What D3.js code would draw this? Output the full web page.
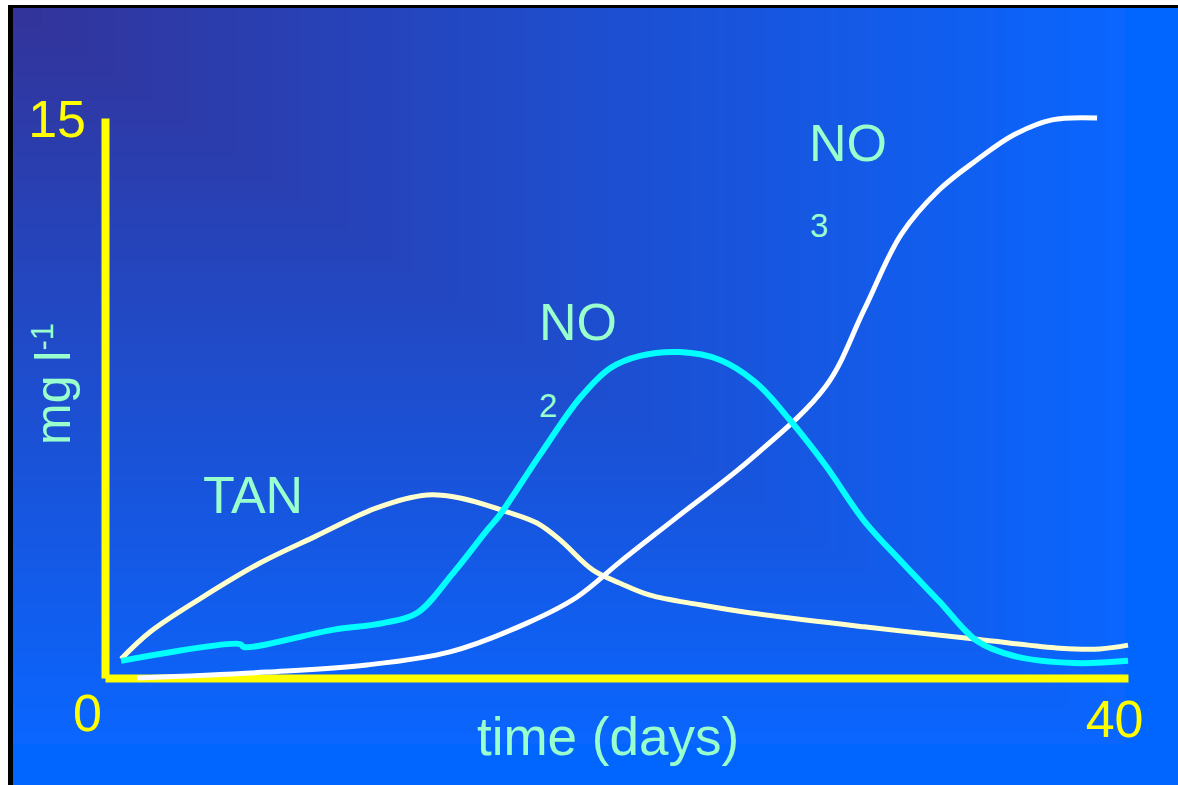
<!DOCTYPE html>
<html>
<head>
<meta charset="utf-8">
<script src="https://cdn.jsdelivr.net/npm/d3@7"></script>
<style>
  html, body { margin: 0; padding: 0; background: #ffffff; }
  svg { display: block; }
  text { font-family: "Liberation Sans", Arial, Helvetica, sans-serif; }
</style>
</head>
<body>
<svg id="chart" width="1178" height="785"></svg>
<script>
// Nitrification over time: total ammonia nitrogen, nitrite and nitrate (mg/l)
const xTicks = [40];
const yTicks = [0, 15];

const tanDays = [0.63, 1.76, 3.71, 6.06, 8.25, 10.6, 12.59, 13.88, 15.72, 16.89, 17.79, 19.08, 20.14, 21.31, 23.27, 25.26, 29.68, 34.1, 37.34, 38.9, 40];
const tanValues = [0.51, 1.23, 2.12, 3.08, 3.80, 4.55, 4.90, 4.82, 4.45, 4.15, 3.70, 2.89, 2.54, 2.22, 1.96, 1.74, 1.37, 1.04, 0.80, 0.78, 0.88];

const no2Days = [0.63, 5.28, 5.43, 8.91, 10.87, 12.2, 13.61, 14.94, 15.44, 17.0, 18.57, 19.75, 20.92, 22.48, 24.05, 25.42, 26.78, 28.19, 29.68, 31.12, 32.61, 34.1, 35.54, 37.89, 40];
const no2Values = [0.46, 0.91, 0.83, 1.29, 1.47, 1.74, 2.81, 3.96, 4.37, 5.97, 7.50, 8.30, 8.63, 8.73, 8.52, 7.93, 6.91, 5.68, 4.21, 3.13, 2.06, 0.99, 0.59, 0.40, 0.46];

const no3Days = [1.25, 6.33, 10.24, 13.49, 16.5, 18.46, 20.14, 22.33, 25.26, 28.19, 29.68, 31.12, 32.61, 34.1, 35.54, 37.03, 38.79];
const no3Values = [0, 0.16, 0.35, 0.70, 1.47, 2.17, 3.11, 4.29, 5.87, 7.82, 9.86, 11.87, 13.07, 13.88, 14.55, 14.95, 15.0];

const svg = d3.select("#chart");
const mint = "#99ffcc";
const yellow = "#ffff00";

// Frame: black edge, blue slide, corner gradient panel
svg.append("rect").attr("x", 8).attr("y", 5).attr("width", 1170).attr("height", 780).attr("fill", "#000");
svg.append("rect").attr("x", 13).attr("y", 8).attr("width", 1165).attr("height", 777).attr("fill", "#0066ff");

const panel = { x: 13, y: 8, w: 1112, h: 736 };
const shade = d3.interpolateRgb("#333399", "#0a66ff");
const steps = d3.range(120, 0, -1);
svg.append("g").selectAll("rect").data(steps).join("rect")
  .attr("x", panel.x).attr("y", panel.y)
  .attr("width", d => panel.w * d / 120)
  .attr("height", d => panel.h * d / 120)
  .attr("fill", d => shade(d / 120));

// Scales
const x = d3.scaleLinear().domain([0, 40]).range([105, 1128]);
const y = d3.scaleLinear().domain([0, 15]).range([678, 118]);

// Axes
const yAxis = svg.append("g").attr("transform", `translate(${x(0)},0)`)
  .call(d3.axisLeft(y).tickValues(yTicks).tickSize(0).tickSizeOuter(0).tickFormat(d3.format("d")));
const xAxis = svg.append("g").attr("transform", `translate(0,${y(0)})`)
  .call(d3.axisBottom(x).tickValues(xTicks).tickSize(0).tickSizeOuter(0).tickFormat(d3.format("d")));

[yAxis, xAxis].forEach(g => {
  g.select(".domain").attr("stroke", yellow).attr("stroke-width", 8).attr("stroke-linecap", "butt");
  g.selectAll("text").attr("fill", yellow).attr("font-size", 52)
    .attr("font-family", "'Liberation Sans', Arial, sans-serif");
});
yAxis.selectAll(".tick text")
  .attr("text-anchor", "end")
  .attr("x", d => d === 15 ? -19 : -3)
  .attr("dy", d => d === 15 ? "0.36em" : "1.0em");
xAxis.selectAll(".tick text")
  .attr("text-anchor", "end")
  .attr("x", 15)
  .attr("y", 59)
  .attr("dy", 0);

// Axis titles
svg.append("text").attr("x", 608).attr("y", 755).attr("text-anchor", "middle")
  .attr("fill", mint).attr("font-size", 53).text("time (days)");

const yTitle = svg.append("text")
  .attr("transform", "translate(70,445) rotate(-90)")
  .attr("fill", mint).attr("font-size", 50);
yTitle.append("tspan").text("mg l");
yTitle.append("tspan").attr("font-size", 31).attr("dy", -17).text("-1");

// Curves
const line = d3.line().x(d => x(d[0])).y(d => y(d[1])).curve(d3.curveCatmullRom.alpha(0.5));
const series = [
  { days: tanDays, values: tanValues, color: "#ffffcc", width: 5 },
  { days: no3Days, values: no3Values, color: "#ffffff", width: 5 },
  { days: no2Days, values: no2Values, color: "#00ffff", width: 6 }
];
svg.append("g").selectAll("path").data(series).join("path")
  .attr("d", s => line(d3.zip(s.days, s.values)))
  .attr("fill", "none")
  .attr("stroke", s => s.color)
  .attr("stroke-width", s => s.width)
  .attr("stroke-linejoin", "round");

// Series labels
function label(xp, yp, main, sub, subX, subY) {
  svg.append("text").attr("x", xp).attr("y", yp).attr("fill", mint).attr("font-size", 52).text(main);
  if (sub) svg.append("text").attr("x", subX).attr("y", subY).attr("fill", mint).attr("font-size", 33).text(sub);
}
label(203, 513, "TAN");
label(539, 340, "NO", "2", 539, 417);
label(809, 161, "NO", "3", 810, 237);
</script>
</body>
</html>
